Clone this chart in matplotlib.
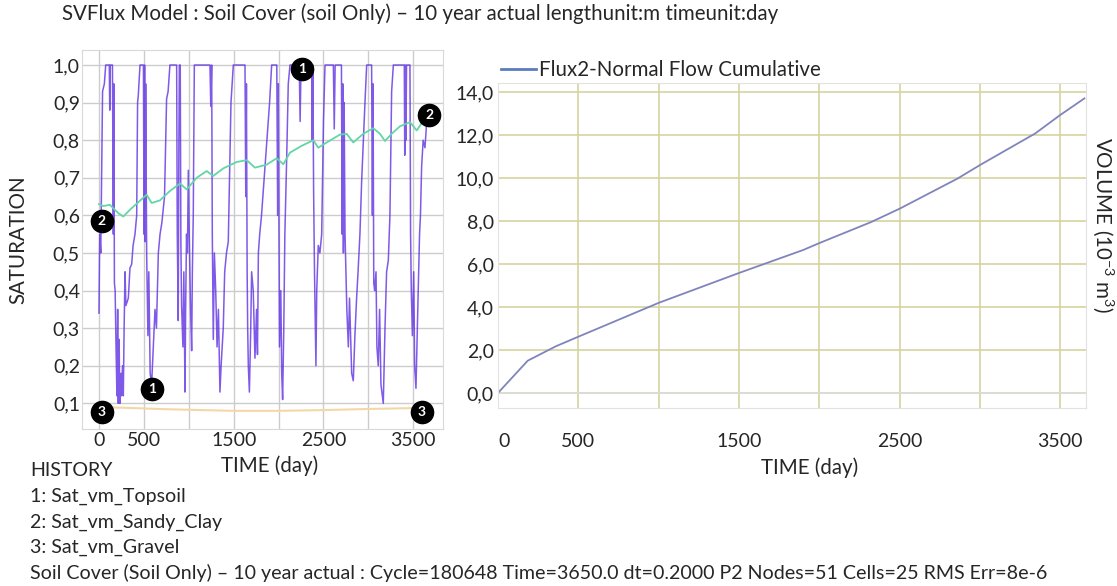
import matplotlib
matplotlib.use("Agg")
import matplotlib.pyplot as plt
from matplotlib.ticker import FuncFormatter

plt.rcParams['font.family'] = ['Lato', 'DejaVu Sans']
plt.rcParams['mathtext.default'] = 'regular'

# ---- data ----
topsoil_t = [0, 8, 20, 40, 60, 75, 115, 120, 125, 150, 160, 165, 172, 180, 190, 200, 208, 215, 225,
             230, 234, 245, 250, 262, 271, 280, 290, 300, 327, 345, 364, 380, 401, 420, 430, 438, 457,
             495, 502, 508, 515, 520, 531, 545, 555, 570, 586, 605, 624, 640, 661, 680, 700, 730, 753,
             770, 790, 865, 872, 883, 890, 895, 905, 912, 920, 935, 945, 958, 965, 975, 985, 995, 1005,
             1020, 1032, 1040, 1050, 1062,
             1236, 1245, 1255, 1262, 1273, 1285, 1300, 1315, 1330, 1347, 1360, 1384, 1400, 1420, 1440,
             1470, 1496,
             1626, 1635, 1642, 1650, 1656, 1663, 1675, 1690, 1700, 1718, 1728, 1737, 1745, 1755, 1765,
             1775, 1790, 1810, 1840, 1870, 1900, 1923,
             1980, 1990, 1997, 2010, 2025, 2035, 2045, 2058, 2070, 2090, 2108, 2127,
             2230, 2240, 2250, 2368, 2375, 2382, 2390, 2400, 2416, 2425, 2442, 2460, 2480, 2500, 2517,
             2610, 2620, 2630, 2700, 2708, 2715, 2722, 2730, 2740, 2760, 2777, 2790, 2814, 2832, 2850,
             2869, 2885, 2906, 2925, 2962, 2981,
             3036, 3045, 3052, 3060, 3070, 3085, 3095, 3110, 3125, 3140, 3166, 3185, 3203, 3222, 3240,
             3259, 3278,
             3400, 3405, 3412, 3418, 3425, 3463, 3470, 3478, 3490, 3505, 3515, 3530, 3545, 3555, 3570,
             3580, 3593, 3610, 3630, 3650]
topsoil_v = [0.34, 0.55, 0.50, 0.93, 0.95, 1.00, 1.00, 0.88, 1.00, 1.00, 0.55, 0.95, 0.42, 0.40, 0.25,
             0.12, 0.35, 0.10, 0.27, 0.12, 0.10, 0.18, 0.12, 0.20, 0.12, 0.30, 0.45, 0.36, 0.38, 0.46,
             0.47, 0.52, 0.55, 0.60, 0.90, 0.92, 1.00,
             1.00, 0.55, 1.00, 0.53, 0.95, 0.50, 0.28, 0.45, 0.18, 0.15, 0.25, 0.35, 0.30, 0.50, 0.55,
             0.58, 0.65, 0.91, 0.93, 1.00, 1.00, 0.55, 0.32, 0.80, 1.00, 1.00, 0.53, 0.36, 0.25, 0.45,
             0.13, 0.35, 0.55, 0.50, 0.72, 0.55, 0.35, 0.24, 0.45, 0.60, 1.00,
             1.00, 0.89, 1.00, 0.55, 0.27, 0.50, 0.40, 0.25, 0.35, 0.13, 0.20, 0.30, 0.45, 0.50, 0.53,
             0.90, 1.00,
             1.00, 0.65, 0.95, 0.45, 0.30, 0.20, 0.13, 0.30, 0.45, 0.40, 0.30, 0.22, 0.28, 0.35, 0.23,
             0.50, 0.55, 0.60, 0.70, 0.80, 0.90, 1.00,
             1.00, 0.60, 0.95, 0.25, 0.40, 0.18, 0.11, 0.30, 0.55, 0.75, 0.95, 1.00,
             1.00, 0.85, 1.00, 1.00, 0.80, 1.00, 0.67, 0.45, 0.20, 0.40, 0.52, 0.50, 0.55, 0.85, 1.00,
             1.00, 0.83, 1.00, 1.00, 0.55, 0.95, 0.50, 0.90, 0.55, 0.35, 0.25, 0.38, 0.18, 0.16, 0.28,
             0.38, 0.45, 0.55, 0.69, 0.90, 1.00,
             1.00, 0.60, 0.95, 0.42, 0.40, 0.45, 0.25, 0.20, 0.35, 0.15, 0.10, 0.30, 0.45, 0.48, 0.60,
             0.93, 1.00,
             1.00, 0.76, 1.00, 0.80, 1.00, 1.00, 0.55, 0.40, 0.28, 0.45, 0.20, 0.14, 0.30, 0.40, 0.55,
             0.60, 0.73, 0.80, 0.78, 0.85]

clay_t = [0, 48, 122, 215, 271, 345, 438, 531, 587, 679, 791, 902, 977, 1088, 1199, 1273, 1384,
          1533, 1645, 1737, 1867, 1979, 2053, 2127, 2257, 2387, 2442, 2536, 2684, 2758, 2832, 2943,
          3055, 3129, 3185, 3259, 3352, 3463, 3538, 3593, 3650]
clay_v = [0.630, 0.625, 0.628, 0.606, 0.597, 0.615, 0.635, 0.655, 0.633, 0.640, 0.665, 0.685, 0.669,
          0.700, 0.718, 0.705, 0.725, 0.742, 0.747, 0.727, 0.735, 0.752, 0.736, 0.767, 0.785, 0.800,
          0.780, 0.794, 0.815, 0.817, 0.794, 0.817, 0.832, 0.817, 0.798, 0.817, 0.837, 0.848, 0.826,
          0.845, 0.850]

gravel_t = [0, 300, 800, 1500, 2000, 2500, 3000, 3650]
gravel_v = [0.090, 0.088, 0.084, 0.080, 0.080, 0.082, 0.085, 0.088]

marker_t = [2257, 590, 30, 3680, 30, 3593]
marker_v = [0.99, 0.137, 0.584, 0.866, 0.078, 0.078]
marker_lbl = ['1', '1', '2', '2', '3', '3']

flux_t = [0, 185, 360, 495, 1000, 1500, 1900, 2000, 2323, 2500, 2860, 3000, 3344, 3500, 3650]
flux_v = [0.0, 1.5, 2.17, 2.6, 4.19, 5.58, 6.65, 6.97, 7.95, 8.57, 9.97, 10.6, 12.07, 12.93, 13.7]

x_ticks = [0, 500, 1000, 1500, 2000, 2500, 3000, 3500]
x_labels = ['0', '500', '', '1500', '', '2500', '', '3500']
sat_ticks = [0.1, 0.2, 0.3, 0.4, 0.5, 0.6, 0.7, 0.8, 0.9, 1.0]
vol_ticks = [0, 2, 4, 6, 8, 10, 12, 14]

W, H = 1117, 586
fig = plt.figure(figsize=(W / 100, H / 100), dpi=100)

def fx(px):
    return px / W

def fy(py):
    return 1 - py / H

comma = FuncFormatter(lambda v, p: f'{v:.1f}'.replace('.', ','))
txt = '#262626'
fs = 14      # tick labels
fs_t = 14.8  # title, axis labels, legend
fs_f = 14.1  # footer lines

# ---- left: saturation history ----
ax1 = fig.add_axes([fx(82), fy(429), fx(443) - fx(82), fy(50) - fy(429)])
ax1.plot(topsoil_t, topsoil_v, color='#5f30e2', lw=1.1, alpha=0.8)
ax1.plot(clay_t, clay_v, color='#62d6a6', lw=1.3)
ax1.plot(gravel_t, gravel_v, color='#f2d8a6', lw=1.5)
ax1.set_xlim(-189, 3831)
ax1.set_ylim(0.0317, 1.04)
ax1.set_xticks(x_ticks)
ax1.set_xticklabels(x_labels)
ax1.set_yticks(sat_ticks)
ax1.yaxis.set_major_formatter(comma)
ax1.grid(True, color='#cccccc', lw=1)
ax1.set_axisbelow(True)
ax1.tick_params(length=0, labelsize=fs, colors=txt)
ax1.tick_params(axis='x', pad=2)
ax1.tick_params(axis='y', pad=1.5)
for s in ax1.spines.values():
    s.set_color('#d9d9d9')

ax1.plot(marker_t, marker_v, 'o', ms=16, color='black', clip_on=False, zorder=5)
for t, v, l in zip(marker_t, marker_v, marker_lbl):
    ax1.text(t, v, l, color='white', fontsize=10, fontweight='bold',
             ha='center', va='center', zorder=6, clip_on=False)

# ---- right: cumulative flux ----
ax2 = fig.add_axes([fx(498), fy(408), fx(1086) - fx(498), fy(82.7) - fy(408)])
ax2.plot(flux_t, flux_v, color='#8084bd', lw=1.3, label='Flux2-Normal Flow Cumulative')
ax2.axhline(0, color='#dddddd', lw=1.2, zorder=1)
ax2.set_xlim(0, 3660)
ax2.set_ylim(-0.7, 14.43)
ax2.set_xticks(x_ticks)
ax2.set_xticklabels(x_labels)
ax2.get_xticklabels()[0].set_ha('left')
ax2.set_yticks(vol_ticks)
ax2.yaxis.set_major_formatter(comma)
ax2.grid(True, color='#d4d4a0', lw=1.2)
ax2.set_axisbelow(True)
ax2.tick_params(length=0, labelsize=fs, colors=txt)
ax2.tick_params(axis='x', pad=18)
ax2.tick_params(axis='y', pad=3)
for s in ax2.spines.values():
    s.set_color('#e2e2e2')

ax2.legend(loc='center left', bbox_to_anchor=(fx(501), fy(70)), bbox_transform=fig.transFigure,
           frameon=False, fontsize=fs_t, borderpad=0, borderaxespad=0,
           handlelength=1.7, handletextpad=0.15, labelcolor=txt)
ax2.get_legend().get_lines()[0].set_color('#5b7dc0')
ax2.get_legend().get_lines()[0].set_linewidth(2)

# ---- texts ----
fig.text(fx(62), fy(14), 'SVFlux Model : Soil Cover (soil Only) \u2013 10 year actual lengthunit:m timeunit:day',
         fontsize=fs_t, color=txt, ha='left', va='center')
fig.text(fx(18), fy(240), 'SATURATION', rotation=90, fontsize=fs_t, color=txt, ha='center', va='center')
fig.text(fx(270), fy(466), 'TIME (day)', fontsize=fs_t, color=txt, ha='center', va='center')
fig.text(fx(810), fy(468), 'TIME (day)', fontsize=fs_t, color=txt, ha='center', va='center')
fig.text(fx(1103), fy(225), 'VOLUME (10$^{-3}$ m$^{3}$)', rotation=-90, fontsize=fs_t, color=txt,
         ha='center', va='center')

footer = ['HISTORY', '1: Sat_vm_Topsoil', '2: Sat_vm_Sandy_Clay', '3: Sat_vm_Gravel',
          'Soil Cover (Soil Only) \u2013 10 year actual : Cycle=180648 Time=3650.0 dt=0.2000 '
          'P2 Nodes=51 Cells=25 RMS Err=8e-6']
for i, line in enumerate(footer):
    fig.text(fx(30), fy(471 + 25.5 * i), line, fontsize=fs_f, color=txt, ha='left', va='center')

fig.savefig('out.png', dpi=100)
